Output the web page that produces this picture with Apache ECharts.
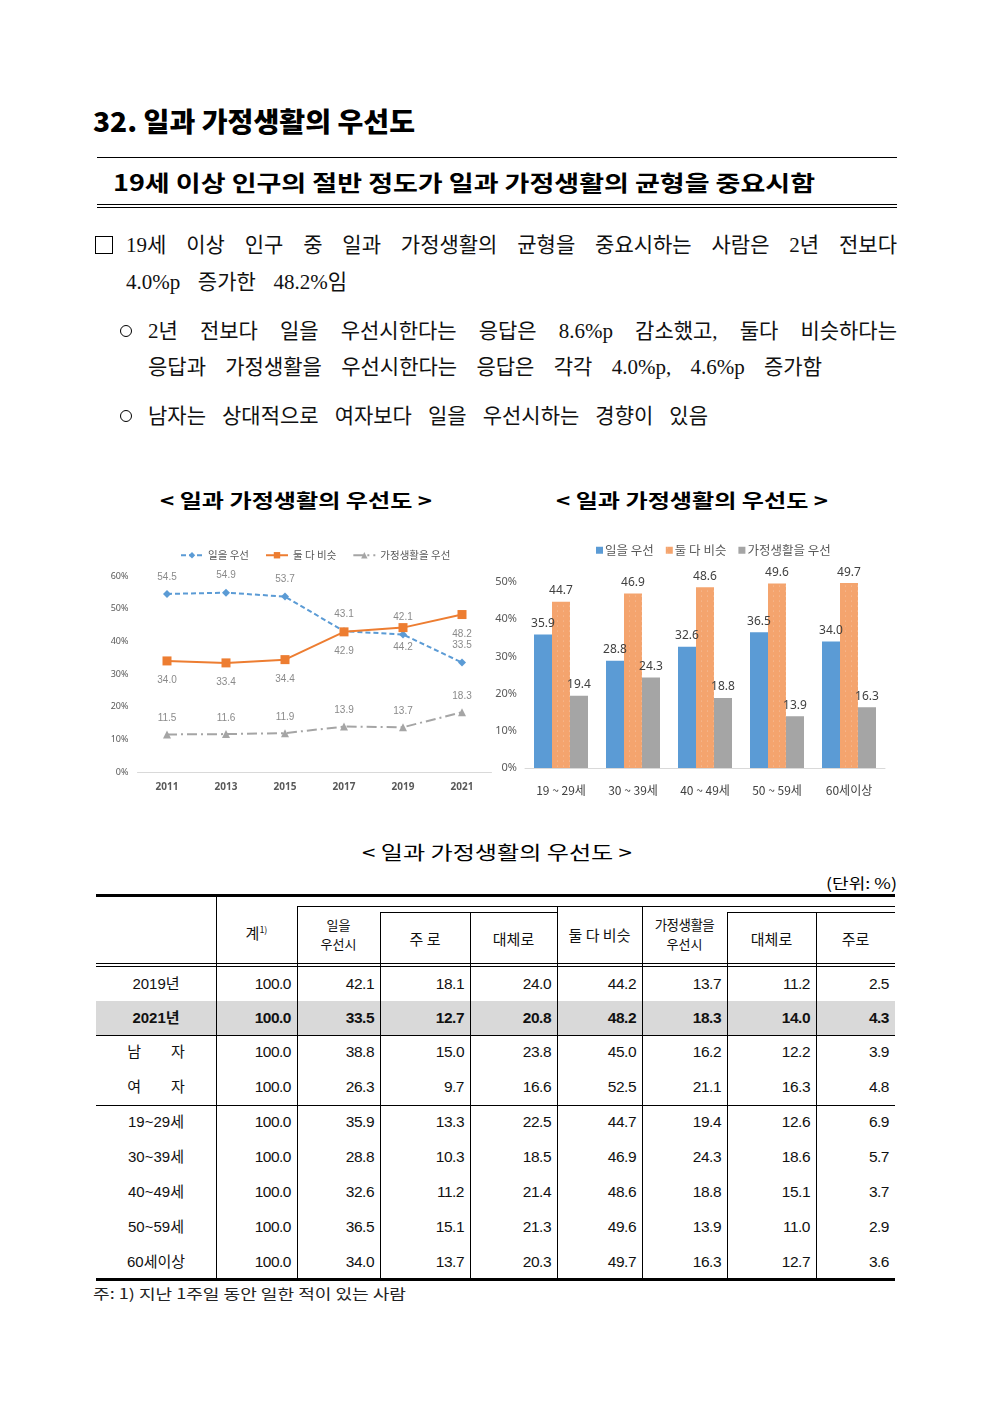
<!DOCTYPE html>
<html><head><meta charset="utf-8">
<script src="https://cdn.jsdelivr.net/npm/echarts/dist/echarts.min.js"></script>
<style>
html,body{margin:0;padding:0;background:#fff;}
body{width:992px;height:1403px;position:relative;overflow:hidden;font-family:"Noto Sans CJK KR","Noto Sans",sans-serif;color:#000;}
.a{position:absolute;white-space:nowrap;}
.j{position:absolute;text-align:justify;text-align-last:justify;white-space:normal;}
.ln{position:absolute;background:#000;}
#c1{position:absolute;left:100px;top:530px;width:400px;height:280px;}
#c2{position:absolute;left:490px;top:530px;width:410px;height:280px;}
</style></head>
<body>
<div id="c1"></div>
<div id="c2"></div>
<script>
// ---------- data ----------
const years = ['2011','2013','2015','2017','2019','2021'];
const workFirst = [54.5, 54.9, 53.7, 43.1, 42.1, 33.5];
const bothSimilar = [34.0, 33.4, 34.4, 42.9, 44.2, 48.2];
const familyFirst = [11.5, 11.6, 11.9, 13.9, 13.7, 18.3];

const ageGroups = ['19 ~ 29세','30 ~ 39세','40 ~ 49세','50 ~ 59세','60세이상'];
const ageWork = [35.9, 28.8, 32.6, 36.5, 34.0];
const ageBoth = [44.7, 46.9, 48.6, 49.6, 49.7];
const ageFamily = [19.4, 24.3, 18.8, 13.9, 16.3];

const seriesNames = ['일을 우선','둘 다 비슷','가정생활을 우선'];

const tableRowLabels = ['2019년','2021년','남　　자','여　　자','19~29세','30~39세','40~49세','50~59세','60세이상'];
const row2019 = [100.0, 42.1, 18.1, 24.0, 44.2, 13.7, 11.2, 2.5];
const row2021 = [100.0, 33.5, 12.7, 20.8, 48.2, 18.3, 14.0, 4.3];
const rowMale = [100.0, 38.8, 15.0, 23.8, 45.0, 16.2, 12.2, 3.9];
const rowFemale = [100.0, 26.3, 9.7, 16.6, 52.5, 21.1, 16.3, 4.8];
const row19 = [100.0, 35.9, 13.3, 22.5, 44.7, 19.4, 12.6, 6.9];
const row30 = [100.0, 28.8, 10.3, 18.5, 46.9, 24.3, 18.6, 5.7];
const row40 = [100.0, 32.6, 11.2, 21.4, 48.6, 18.8, 15.1, 3.7];
const row50 = [100.0, 36.5, 15.1, 21.3, 49.6, 13.9, 11.0, 2.9];
const row60 = [100.0, 34.0, 13.7, 20.3, 49.7, 16.3, 12.7, 3.6];
const tableRows = [row2019, row2021, rowMale, rowFemale, row19, row30, row40, row50, row60];

// ---------- helpers ----------
const B = document.body;
function el(cls, css, html){
  const d = document.createElement('div');
  d.className = cls;
  Object.assign(d.style, css);
  if (html !== undefined) d.innerHTML = html;
  B.appendChild(d);
  return d;
}
function txt(html, x, yc, size, opts){
  opts = opts || {};
  const lh = Math.round(size * 1.4);
  const d = el('a', Object.assign({left: x + 'px', top: (yc - lh/2) + 'px', fontSize: size + 'px', lineHeight: lh + 'px'}, opts.css || {}), html);
  if (opts.fitW){
    d.style.display = 'inline-block';
    const w = d.getBoundingClientRect().width;
    d.style.transformOrigin = 'left center';
    d.style.transform = 'scaleX(' + (opts.fitW / w) + ')';
  }
  return d;
}
function just(html, x, yc, w, size, css){
  const lh = Math.round(size * 1.4);
  return el('j', Object.assign({left: x + 'px', top: (yc - lh/2) + 'px', width: w + 'px', fontSize: size + 'px', lineHeight: lh + 'px'}, css || {}), html);
}
function hl(x1, x2, y, t){ el('ln', {left: x1 + 'px', top: y + 'px', width: (x2 - x1) + 'px', height: (t || 1) + 'px'}); }
function vl(x, y1, y2, t){ el('ln', {left: x + 'px', top: y1 + 'px', width: (t || 1) + 'px', height: (y2 - y1) + 'px'}); }

// ---------- headings ----------
txt('32. 일과 가정생활의 우선도', 93, 121, 27, {fitW: 322, css: {fontWeight: 900}});
hl(97, 897, 157, 1);
txt('19세 이상 인구의 절반 정도가 일과 가정생활의 균형을 중요시함', 113, 181, 22, {fitW: 702, css: {fontWeight: 700}});
hl(97, 897, 204, 1);
hl(97, 897, 207, 1);

// ---------- body text ----------
const bodyFont = {fontFamily: '"Liberation Serif","Noto Sans CJK KR",serif', color: '#111'};
el('a', {left: '95px', top: '236px', width: '16px', height: '16px', border: '1px solid #000'});
just('19세 이상 인구 중 일과 가정생활의 균형을 중요시하는 사람은 2년 전보다', 126, 245, 771, 21, bodyFont);
just('4.0%p 증가한 48.2%임', 126, 282, 221, 21, bodyFont);
el('a', {left: '120px', top: '325px', width: '10px', height: '10px', border: '1px solid #000', borderRadius: '50%'});
just('2년 전보다 일을 우선시한다는 응답은 8.6%p 감소했고, 둘다 비슷하다는', 148, 331, 749, 21, bodyFont);
just('응답과 가정생활을 우선시한다는 응답은 각각 4.0%p, 4.6%p 증가함', 148, 367, 674, 21, bodyFont);
el('a', {left: '120px', top: '410px', width: '10px', height: '10px', border: '1px solid #000', borderRadius: '50%'});
just('남자는 상대적으로 여자보다 일을 우선시하는 경향이 있음', 148, 416, 560, 21, bodyFont);

// ---------- chart titles ----------
txt('&lt; 일과 가정생활의 우선도 &gt;', 160, 499, 19, {fitW: 272, css: {fontWeight: 700}});
txt('&lt; 일과 가정생활의 우선도 &gt;', 556, 499, 19, {fitW: 272, css: {fontWeight: 700}});
txt('&lt; 일과 가정생활의 우선도 &gt;', 362, 851, 19, {fitW: 270, css: {fontWeight: 400}});
txt('(단위: %)', 826, 882, 15, {fitW: 71});

// ---------- table ----------
const colX = [96, 216, 297, 380, 470, 557, 642, 727, 816, 895];
const rowTop = [967, 1001, 1035, 1070, 1105, 1140, 1175, 1210, 1245];
el('a', {left: '96px', top: '1001px', width: '799px', height: '34px', background: '#d9d9d9'});
hl(96, 895, 894, 3);
hl(297, 895, 906, 1);
hl(380, 557, 912, 1);
hl(727, 895, 912, 1);
hl(96, 895, 963, 1);
hl(96, 895, 966, 1);
hl(96, 895, 1035, 1);
hl(96, 895, 1105, 1);
hl(96, 895, 1278, 3);
vl(216, 895, 1279); vl(297, 906, 1279); vl(380, 912, 1279); vl(470, 912, 1279);
vl(557, 906, 1279); vl(642, 906, 1279); vl(727, 912, 1279); vl(816, 912, 1279);

const tFont = {fontFamily: '"Noto Sans CJK KR",sans-serif', color: '#111'};
function ctr(html, x1, x2, yc, size, css){
  const lh = Math.round(size * 1.1);
  return el('a', Object.assign({left: x1 + 'px', width: (x2 - x1) + 'px', top: (yc - lh/2) + 'px', fontSize: size + 'px', lineHeight: lh + 'px', textAlign: 'center'}, tFont, css || {}), html);
}
ctr('계<sup style="font-size:9px;vertical-align:6px">1)</sup>', 216, 297, 929, 15);
ctr('일을', 297, 380, 925, 13);
ctr('우선시', 297, 380, 944, 13);
ctr('주 로', 380, 470, 938, 15);
ctr('대체로', 470, 557, 938, 15);
ctr('둘 다 비슷', 557, 642, 934, 15);
ctr('가정생활을', 642, 727, 924, 13.5, {letterSpacing: '-0.5px'});
ctr('우선시', 642, 727, 944, 13);
ctr('대체로', 727, 816, 938, 15);
ctr('주로', 816, 895, 938, 15);

const numFont = {fontFamily: '"Liberation Sans","Noto Sans CJK KR",sans-serif', color: '#111'};
tableRows.forEach((vals, r) => {
  const yc = rowTop[r] + 17;
  const bold = r === 1 ? {fontWeight: 700} : {};
  ctr(tableRowLabels[r], 96, 216, yc, 15, Object.assign({}, bold, {fontFamily: '"Liberation Sans","Noto Sans CJK KR",sans-serif', lineHeight: '20px', top: (yc - 10) + 'px'}));
  vals.forEach((v, c) => {
    const x1 = colX[c + 1], x2 = colX[c + 2];
    el('a', Object.assign({left: x1 + 'px', width: (x2 - x1 - 6) + 'px', top: (yc - 10) + 'px', fontSize: '15.5px', lineHeight: '20px', textAlign: 'right', letterSpacing: '-0.5px'}, numFont, bold), v.toFixed(1));
  });
});
txt('주: 1) 지난 1주일 동안 일한 적이 있는 사람', 93, 1293, 14, {fitW: 313, css: {color: '#222'}});

// ---------- chart 1: lines ----------
const grey = '#595959';
const c1 = echarts.init(document.getElementById('c1'));
c1.setOption({
  animation: false,
  legend: {
    top: 15, left: 75, itemGap: 16, itemWidth: 22, itemHeight: 8,
    textStyle: {fontSize: 10.5, color: grey, fontFamily: 'Noto Sans CJK KR'},
    data: seriesNames
  },
  grid: {left: 37.5, right: 8.5, top: 46, bottom: 38},
  xAxis: {
    type: 'category', data: years, boundaryGap: true,
    axisLine: {lineStyle: {color: '#d9d9d9'}}, axisTick: {show: false},
    axisLabel: {fontSize: 10, color: grey, margin: 10, fontWeight: 'bold', fontFamily: 'Noto Sans'}
  },
  yAxis: {
    type: 'value', min: 0, max: 60, interval: 10,
    axisLine: {show: false}, axisTick: {show: false}, splitLine: {show: false},
    axisLabel: {formatter: '{value}%', fontSize: 9, color: grey, margin: 9, fontFamily: 'Noto Sans'}
  },
  series: [
    {name: seriesNames[0], type: 'line', data: workFirst, symbol: 'diamond', symbolSize: 8,
     itemStyle: {color: '#5B9BD5'}, lineStyle: {color: '#5B9BD5', width: 2, type: [5, 3]},
     label: {show: true, position: 'top', distance: 8, fontSize: 10, color: '#8a8a8a', formatter: p => p.value.toFixed(1)}},
    {name: seriesNames[1], type: 'line', data: bothSimilar, symbol: 'rect', symbolSize: 9,
     itemStyle: {color: '#ED7D31'}, lineStyle: {color: '#ED7D31', width: 2},
     label: {show: true, position: 'bottom', distance: 10, fontSize: 10, color: '#8a8a8a', formatter: p => p.value.toFixed(1)}},
    {name: seriesNames[2], type: 'line', data: familyFirst, symbol: 'triangle', symbolSize: 8,
     itemStyle: {color: '#A5A5A5'}, lineStyle: {color: '#A5A5A5', width: 2, type: [10, 4, 2, 4]},
     label: {show: true, position: 'top', distance: 7, fontSize: 10, color: '#8a8a8a', formatter: p => p.value.toFixed(1)}}
  ]
});

// ---------- chart 2: bars ----------
const c2 = echarts.init(document.getElementById('c2'));
const barLabel = {show: true, position: 'top', distance: 5, fontSize: 12, color: '#404040', fontFamily: 'Noto Sans', formatter: p => p.value.toFixed(1)};
c2.setOption({
  animation: false,
  legend: {
    top: 9, left: 101, itemGap: 12, itemWidth: 7, itemHeight: 7, icon: 'rect',
    textStyle: {fontSize: 12.5, color: grey, fontFamily: 'Noto Sans CJK KR', padding: [0, 0, 0, -3]},
    data: seriesNames
  },
  grid: {left: 35, right: 15, top: 52, bottom: 42},
  xAxis: {
    type: 'category', data: ageGroups,
    axisLine: {lineStyle: {color: '#d9d9d9'}}, axisTick: {show: false},
    axisLabel: {fontSize: 12, color: '#404040', margin: 16, fontFamily: 'Noto Sans CJK KR'}
  },
  yAxis: {
    type: 'value', min: 0, max: 50, interval: 10,
    axisLine: {show: false}, axisTick: {show: false}, splitLine: {show: false},
    axisLabel: {formatter: '{value}%', fontSize: 11, color: grey, margin: 8, fontFamily: 'Noto Sans'}
  },
  series: [
    {name: seriesNames[0], type: 'bar', data: ageWork, barWidth: 18, barGap: '0%',
     itemStyle: {color: '#5B9BD5'}, label: barLabel},
    {name: seriesNames[1], type: 'bar', data: ageBoth, barWidth: 18, barGap: '0%',
     itemStyle: {color: '#F4A46E', decal: {symbol: 'circle', symbolSize: 0.5, color: 'rgba(255,255,255,0.45)', dashArrayX: [3, 3], dashArrayY: [2, 3]}},
     label: barLabel},
    {name: seriesNames[2], type: 'bar', data: ageFamily, barWidth: 18, barGap: '0%',
     itemStyle: {color: '#A5A5A5'}, label: barLabel}
  ]
});
</script>
</body></html>
